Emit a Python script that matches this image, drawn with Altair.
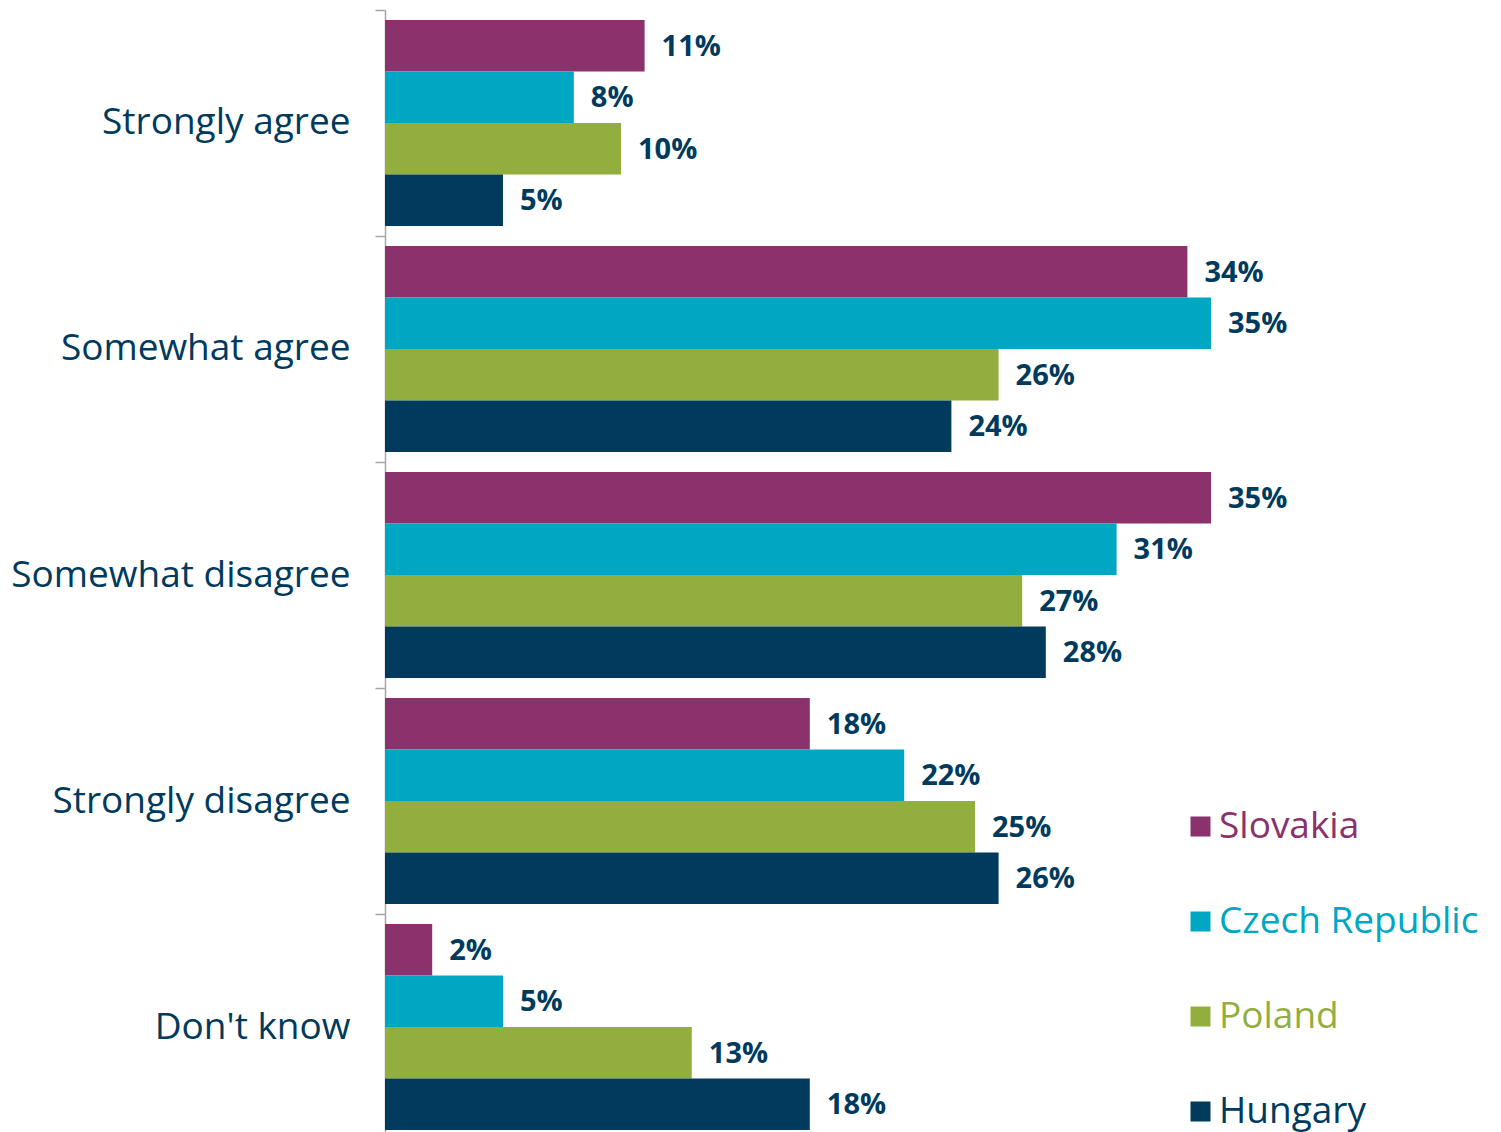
import altair as alt
import pandas as pd

categories = ["Strongly agree", "Somewhat agree", "Somewhat disagree", "Strongly disagree", "Don't know"]
countries = ["Slovakia", "Czech Republic", "Poland", "Hungary"]
colors = ["#8B316B", "#00A7C2", "#92AE3E", "#003A5C"]
slovakia = [11, 34, 35, 18, 2]
czech = [8, 35, 31, 22, 5]
poland = [10, 26, 27, 25, 13]
hungary = [5, 24, 28, 26, 18]

series = {"Slovakia": slovakia, "Czech Republic": czech, "Poland": poland, "Hungary": hungary}
rows = []
for c, vals in series.items():
    for cat, v in zip(categories, vals):
        rows.append({"category": cat, "country": c, "value": v, "label": f"{v}%"})
df = pd.DataFrame(rows)

label_expr = " : ".join(
    [f"datum.label == '{c}' ? '{col}'" for c, col in zip(countries[:-1], colors[:-1])]
) + f" : '{colors[-1]}'"

y = alt.Y(
    "category:N",
    sort=categories,
    title=None,
    scale=alt.Scale(paddingInner=0.0885, paddingOuter=0.0442),
    axis=alt.Axis(
        bandPosition=0,
        tickOffset=-10,
        labelOffset=10,
        tickSize=10,
        labelPadding=25,
        labelFont="Open Sans",
        labelFontSize=37,
        labelColor="#003A5C",
        labelLimit=400,
        domainColor="#A6A6A6",
        tickColor="#A6A6A6",
        domainWidth=1.5,
        tickWidth=1.5,
        minExtent=377,
        maxExtent=377,
    ),
)
yoff = alt.YOffset("country:N", sort=countries, scale=alt.Scale(paddingInner=0, paddingOuter=0))
x = alt.X("value:Q", scale=alt.Scale(domain=[0, 40]), axis=None)

bars = alt.Chart(df).mark_bar().encode(
    x=x,
    y=y,
    yOffset=yoff,
    color=alt.Color(
        "country:N",
        sort=countries,
        scale=alt.Scale(domain=countries, range=colors),
        legend=alt.Legend(
            title=None,
            orient="none",
            legendX=797,
            legendY=798,
            symbolType="square",
            symbolSize=400,
            symbolStrokeWidth=0,
            labelFont="Open Sans",
            labelFontSize=37,
            labelColor=alt.ExprRef(label_expr),
            labelOffset=0,
            rowPadding=57,
            padding=0,
            labelLimit=400,
        ),
    ),
)

text = alt.Chart(df).mark_text(
    align="left", baseline="middle", dx=17, dy=1, font="Open Sans", fontSize=29, fontWeight="bold", color="#003A5C"
).encode(x=x, y=y, yOffset=yoff, text="label:N")

chart = (
    alt.layer(bars, text)
    .properties(width=944, height=1130, padding={"left": 0, "top": 1, "right": 0, "bottom": 0})
    .configure_view(stroke=None)
)

chart.save("out.html", embed_options={"renderer": "svg", "actions": False})
